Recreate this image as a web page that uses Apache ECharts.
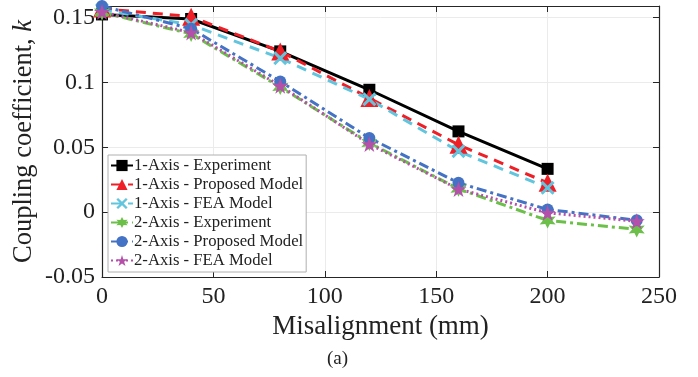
<!DOCTYPE html>
<html>
<head>
<meta charset="utf-8">
<script src="https://cdn.jsdelivr.net/npm/echarts@6/dist/echarts.min.js"></script>
<style>
  html, body { margin: 0; padding: 0; background: #fff; }
  #chart { width: 698px; height: 377px; }
</style>
</head>
<body>
<div id="chart"></div>
<script>
// misalignment (mm)
const misalign = [0, 40, 80, 120, 160, 200, 240];
// coupling coefficient k
const oneAxisExp = [0.1525, 0.149, 0.124, 0.0944, 0.0623, 0.0334];
const oneAxisProp = [0.157, 0.1508, 0.124, 0.088, 0.052, 0.0226];
const oneAxisFea = [0.156, 0.1445, 0.1188, 0.087, 0.047, 0.0188];
const twoAxisExp = [0.154, 0.1375, 0.0965, 0.0534, 0.018, -0.0064, -0.0133];
const twoAxisProp = [0.159, 0.1415, 0.1008, 0.0572, 0.0226, 0.0021, -0.0062];
const twoAxisFea = [0.1545, 0.1385, 0.0975, 0.0525, 0.0178, -0.0005, -0.007];

const seriesNames = [
  '1-Axis - Experiment',
  '1-Axis - Proposed Model',
  '1-Axis - FEA Model',
  '2-Axis - Experiment',
  '2-Axis - Proposed Model',
  '2-Axis - FEA Model'
];

const crossPath = 'path://M0,3 L3,0 L10,7 L17,0 L20,3 L13,10 L20,17 L17,20 L10,13 L3,20 L0,17 L7,10 Z';
const starPath = 'path://M10,0 L12.25,6.91 L19.51,6.91 L13.63,11.18 L15.88,18.09 L10,13.82 L4.12,18.09 L6.37,11.18 L0.49,6.91 L7.75,6.91 Z';
const hexPath = 'path://M10,0 L12.5,5.67 L18.66,5 L15,10 L18.66,15 L12.5,14.33 L10,20 L7.5,14.33 L1.34,15 L5,10 L1.34,5 L7.5,5.67 Z';

const font = 'Liberation Serif, Times New Roman, serif';

const pairs = (ys) => ys.map((y, i) => [misalign[i], y]);

function mkSeries(name, ys, color, symbol, size, lineType, width) {
  return {
    name: name,
    type: 'line',
    data: pairs(ys),
    symbol: symbol,
    symbolSize: size,
    showAllSymbol: true,
    color: color,
    itemStyle: { color: color },
    lineStyle: { color: color, width: width, type: lineType },
    emphasis: { disabled: true },
    z: 3
  };
}

const chart = echarts.init(document.getElementById('chart'));

const axisLine = { show: true, onZero: false, lineStyle: { color: '#262626', width: 1.2 } };
const tick = { show: true, inside: true, length: 6, lineStyle: { color: '#262626', width: 1 } };

const option = {
  animation: false,
  backgroundColor: '#fff',
  grid: { left: 102, right: 39, top: 6, bottom: 100 },
  legend: {
    orient: 'vertical',
    left: 108,
    top: 155,
    padding: [2, 3, 3, 2],
    itemGap: 2,
    itemWidth: 22,
    itemHeight: 14,
    backgroundColor: '#fff',
    borderColor: '#b0b0b0',
    borderWidth: 1,
    borderRadius: 0,
    textStyle: { fontFamily: font, fontSize: 16.7, lineHeight: 17, color: '#222', padding: [0, 0, 0, -4] },
    data: seriesNames
  },
  xAxis: [
    {
      type: 'value',
      min: 0,
      max: 250,
      interval: 50,
      name: 'Misalignment (mm)',
      nameLocation: 'middle',
      nameGap: 36,
      nameMoveOverlap: false,
      nameTextStyle: { fontFamily: font, fontSize: 27, color: '#222' },
      axisLine: axisLine,
      axisTick: tick,
      axisLabel: { fontFamily: font, fontSize: 24, color: '#222', margin: 8 },
      splitLine: { show: true, lineStyle: { color: '#ebebeb', width: 1 } }
    },
    {
      type: 'value',
      position: 'top',
      min: 0,
      max: 250,
      interval: 50,
      axisLine: axisLine,
      axisTick: tick,
      axisLabel: { show: false },
      splitLine: { show: false }
    }
  ],
  yAxis: [
    {
      type: 'value',
      min: -0.05,
      max: 0.159,
      interval: 0.05,
      name: '{a|Coupling coefficient, }{b|k}',
      nameLocation: 'middle',
      nameGap: 64,
      nameMoveOverlap: false,
      nameTextStyle: {
        rich: {
          a: { fontFamily: font, fontSize: 26.5, color: '#222' },
          b: { fontFamily: font, fontSize: 26.5, color: '#222', fontStyle: 'italic' }
        }
      },
      axisLine: axisLine,
      axisTick: tick,
      axisLabel: { fontFamily: font, fontSize: 24, color: '#222', margin: 7, showMaxLabel: false },
      splitLine: { show: true, lineStyle: { color: '#ebebeb', width: 1 } }
    },
    {
      type: 'value',
      position: 'right',
      min: -0.05,
      max: 0.159,
      interval: 0.05,
      axisLine: axisLine,
      axisTick: tick,
      axisLabel: { show: false },
      splitLine: { show: false }
    }
  ],
  graphic: [
    {
      type: 'text',
      left: 327,
      top: 350,
      style: { text: '(a)', font: '19px ' + font, fill: '#222' }
    }
  ],
  series: [
    mkSeries(seriesNames[0], oneAxisExp, '#000000', 'rect', 12, 'solid', 3),
    mkSeries(seriesNames[1], oneAxisProp, '#ee1f26', 'triangle', 18, [10, 7], 3),
    mkSeries(seriesNames[2], oneAxisFea, '#62c5de', crossPath, 14, [10, 7], 3),
    mkSeries(seriesNames[3], twoAxisExp, '#6cc04a', hexPath, 16, [10, 4, 3, 4], 3),
    mkSeries(seriesNames[4], twoAxisProp, '#4472c4', 'circle', 12, [10, 4, 3, 4], 3),
    mkSeries(seriesNames[5], twoAxisFea, '#b44faa', starPath, 16, [2, 3], 3)
  ]
};

chart.setOption(option);
</script>
</body>
</html>
